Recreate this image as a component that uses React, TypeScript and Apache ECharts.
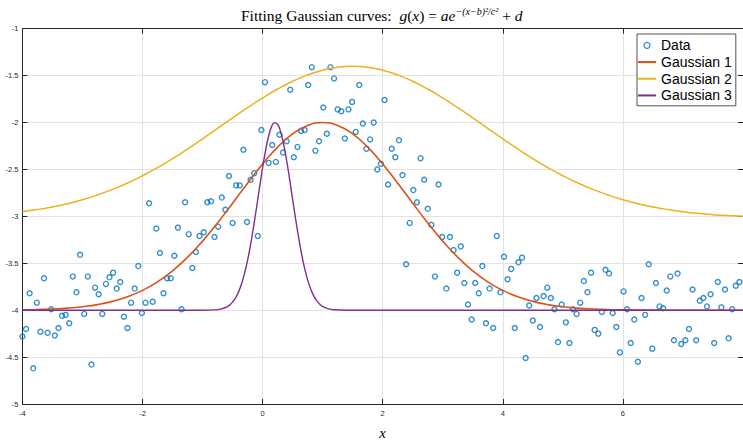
import React, { useEffect, useRef } from "react";
import * as echarts from "echarts";

const dataX = [
  -4.0, -3.94, -3.88, -3.82, -3.76, -3.7, -3.64, -3.58, -3.52, -3.46,
  -3.4, -3.34, -3.28, -3.22, -3.16, -3.1, -3.04, -2.97, -2.91, -2.85,
  -2.79, -2.73, -2.67, -2.61, -2.55, -2.49, -2.43, -2.37, -2.31, -2.25,
  -2.19, -2.13, -2.07, -2.01, -1.95, -1.89, -1.83, -1.77, -1.71, -1.65,
  -1.59, -1.53, -1.47, -1.41, -1.35, -1.29, -1.23, -1.17, -1.11, -1.05,
  -0.98, -0.92, -0.86, -0.8, -0.74, -0.68, -0.62, -0.56, -0.5, -0.44,
  -0.38, -0.32, -0.26, -0.2, -0.14, -0.08, -0.02, 0.04, 0.1, 0.16,
  0.22, 0.28, 0.34, 0.4, 0.46, 0.52, 0.58, 0.64, 0.7, 0.76,
  0.82, 0.88, 0.94, 1.01, 1.07, 1.13, 1.19, 1.25, 1.31, 1.37,
  1.43, 1.49, 1.55, 1.61, 1.67, 1.73, 1.79, 1.85, 1.91, 1.97,
  2.03, 2.09, 2.15, 2.21, 2.27, 2.33, 2.39, 2.45, 2.51, 2.57,
  2.63, 2.69, 2.75, 2.81, 2.87, 2.93, 2.99, 3.06, 3.12, 3.18,
  3.24, 3.3, 3.36, 3.42, 3.48, 3.54, 3.6, 3.66, 3.72, 3.78,
  3.84, 3.9, 3.96, 4.02, 4.08, 4.14, 4.2, 4.26, 4.32, 4.38,
  4.44, 4.5, 4.56, 4.62, 4.68, 4.74, 4.8, 4.86, 4.92, 4.98,
  5.05, 5.11, 5.17, 5.23, 5.29, 5.35, 5.41, 5.47, 5.53, 5.59,
  5.65, 5.71, 5.77, 5.83, 5.89, 5.95, 6.01, 6.07, 6.13, 6.19,
  6.25, 6.31, 6.37, 6.43, 6.49, 6.55, 6.61, 6.67, 6.73, 6.79,
  6.85, 6.91, 6.97, 7.04, 7.1, 7.16, 7.22, 7.28, 7.34, 7.4,
  7.46, 7.52, 7.58, 7.64, 7.7, 7.76, 7.82, 7.88, 7.94,
];

const dataY = [
  -4.28, -4.2, -3.82, -4.62, -3.92, -4.23, -3.66, -4.24, -3.99, -4.27,
  -4.19, -4.06, -4.05, -4.14, -3.64, -3.81, -3.41, -4.04, -3.64, -4.58,
  -3.76, -3.83, -4.04, -3.72, -3.65, -3.6, -3.77, -3.7, -4.07, -4.19,
  -3.92, -3.77, -3.53, -4.03, -3.92, -2.86, -3.91, -3.13, -3.39, -3.82,
  -3.66, -3.66, -3.42, -3.12, -3.99, -2.85, -3.19, -3.55, -3.38, -3.21,
  -3.17, -2.85, -2.84, -3.22, -3.11, -2.8, -2.93, -2.57, -3.07, -2.67,
  -2.67, -2.29, -3.06, -2.61, -2.54, -3.21, -2.08, -1.57, -2.43, -2.24,
  -2.42, -2.13, -2.32, -2.2, -1.65, -2.37, -2.26, -2.09, -2.08, -1.6,
  -1.41, -2.3, -2.2, -1.84, -2.12, -1.41, -1.53, -1.86, -1.88, -2.17,
  -1.86, -1.78, -2.1, -1.6, -2.01, -2.28, -2.18, -2.0, -2.5, -2.44,
  -1.76, -2.66, -2.28, -2.37, -2.19, -2.56, -3.51, -3.07, -2.72, -2.85,
  -2.38, -2.61, -2.92, -3.09, -3.64, -2.66, -3.22, -3.77, -3.22, -3.36,
  -3.6, -3.32, -3.71, -3.94, -4.1, -3.71, -3.82, -3.53, -4.14, -3.77,
  -4.19, -3.21, -3.81, -3.43, -3.67, -3.56, -4.19, -3.49, -3.44, -4.51,
  -3.95, -4.11, -3.87, -4.18, -3.85, -3.76, -3.87, -3.99, -4.34, -3.94,
  -4.13, -4.35, -3.99, -4.04, -3.92, -3.69, -3.81, -3.6, -4.21, -4.25,
  -4.02, -3.57, -3.61, -4.03, -4.18, -4.45, -3.8, -3.99, -4.35, -4.1,
  -4.55, -3.87, -4.05, -3.51, -4.41, -3.71, -3.96, -3.98, -3.79, -3.64,
  -4.32, -3.61, -4.36, -4.32, -4.2, -3.78, -4.32, -3.9, -3.87, -3.96,
  -3.83, -4.35, -3.7, -3.97, -3.78, -4.3, -3.99, -3.74, -3.7,
];

// Fitted curves (x every 0.25)
const curveX = [
  -4, -3.75, -3.5, -3.25, -3, -2.75, -2.5, -2.25, -2, -1.75, -1.5, -1.25, -1,
  -0.75, -0.5, -0.25, 0, 0.25, 0.5, 0.75, 1, 1.25, 1.5, 1.75, 2, 2.25, 2.5,
  2.75, 3, 3.25, 3.5, 3.75, 4, 4.25, 4.5, 4.75, 5, 5.25, 5.5, 5.75, 6, 6.25,
  6.5, 6.75, 7, 7.25, 7.5, 7.75, 8,
];
const gauss1Y = [
  -3.996, -3.993, -3.987, -3.978, -3.963, -3.941, -3.906, -3.857, -3.789,
  -3.698, -3.581, -3.436, -3.264, -3.07, -2.86, -2.647, -2.442, -2.262, -2.121,
  -2.031, -2.0, -2.031, -2.121, -2.262, -2.442, -2.647, -2.86, -3.07, -3.264,
  -3.436, -3.581, -3.698, -3.789, -3.857, -3.906, -3.941, -3.963, -3.978,
  -3.987, -3.993, -3.996, -3.998, -3.999, -4.0, -4.0, -4.0, -4.0, -4.0, -4.0,
];
const gauss2Y = [
  -2.95, -2.928, -2.9, -2.865, -2.823, -2.772, -2.713, -2.645, -2.567, -2.48,
  -2.385, -2.282, -2.174, -2.063, -1.951, -1.842, -1.738, -1.643, -1.56,
  -1.492, -1.442, -1.41, -1.4, -1.41, -1.442, -1.492, -1.56, -1.643, -1.738,
  -1.842, -1.951, -2.063, -2.174, -2.282, -2.385, -2.48, -2.567, -2.645,
  -2.713, -2.772, -2.823, -2.865, -2.9, -2.928, -2.95, -2.968, -2.982, -2.992,
  -3.0,
];
const gauss3X = [
  -4, -1, -0.8, -0.7, -0.6, -0.55, -0.5, -0.45, -0.4, -0.35, -0.3, -0.25,
  -0.2, -0.15, -0.1, -0.05, 0, 0.05, 0.1, 0.15, 0.2, 0.25, 0.3, 0.35, 0.4,
  0.45, 0.5, 0.55, 0.6, 0.65, 0.7, 0.75, 0.8, 0.85, 0.9, 0.95, 1.0, 1.1, 1.2,
  1.4, 8,
];
const gauss3Y = [
  -4.0, -4.0, -3.997, -3.989, -3.967, -3.946, -3.914, -3.869, -3.805, -3.718,
  -3.606, -3.467, -3.301, -3.11, -2.903, -2.689, -2.482, -2.296, -2.146,
  -2.044, -2.001, -2.02, -2.099, -2.231, -2.404, -2.605, -2.818, -3.029,
  -3.227, -3.404, -3.554, -3.677, -3.773, -3.845, -3.898, -3.935, -3.96,
  -3.986, -3.996, -4.0, -4.0,
];

const seriesNames = ["Data", "Gaussian 1", "Gaussian 2", "Gaussian 3"];
const seriesColors = ["#0072BD", "#D95319", "#EDB120", "#7E2F8E"];

const AXIS_COLOR = "#262626";
const GRID_COLOR = "#e2e2e2";

export default function App() {
  const ref = useRef<HTMLDivElement>(null);

  useEffect(() => {
    if (!ref.current) return;
    const chart = echarts.init(ref.current, null, { renderer: "svg" });
    const serif = "Liberation Serif";
    const sans = "Liberation Sans";

    const axisCommon = {
      axisLine: { show: true, onZero: false, lineStyle: { color: AXIS_COLOR, width: 1 } },
      axisTick: { show: true, inside: true, length: 5, lineStyle: { color: AXIS_COLOR, width: 1 } },
    };

    const hiddenSymbol = { color: "transparent", borderColor: "transparent", borderWidth: 0, opacity: 0 };

    chart.setOption({
      animation: false,
      backgroundColor: "#ffffff",
      title: {
        text:
          "{n|Fitting Gaussian curves:  }{i|g}{n|(}{i|x}{n|) = }{i|ae}{s|−(x−b)²/c²}{n| + }{i|d}",
        left: 236,
        top: 1,
        textStyle: {
          fontWeight: "normal",
          rich: {
            n: { fontFamily: serif, fontSize: 15.5, fontWeight: "normal", color: "#000", lineHeight: 18 },
            i: {
              fontFamily: serif,
              fontSize: 15.5,
              fontStyle: "italic",
              fontWeight: "normal",
              color: "#000",
              lineHeight: 18,
            },
            s: {
              fontFamily: serif,
              fontSize: 10,
              fontStyle: "italic",
              fontWeight: "normal",
              color: "#000",
              lineHeight: 8,
              verticalAlign: "top",
            },
          },
        },
      },
      legend: {
        orient: "vertical",
        left: 637,
        top: 34,
        padding: [3, 4, 2, 0],
        itemGap: 0,
        itemWidth: 18,
        itemHeight: 6,
        borderColor: AXIS_COLOR,
        borderWidth: 0.8,
        backgroundColor: "#ffffff",
        textStyle: { fontFamily: sans, fontSize: 14, color: "#000", lineHeight: 16.7 },
        data: [
          {
            name: seriesNames[0],
            icon: "circle",
            itemStyle: { color: "transparent", borderColor: seriesColors[0], borderWidth: 1.3 },
          },
          { name: seriesNames[1], itemStyle: hiddenSymbol },
          { name: seriesNames[2], itemStyle: hiddenSymbol },
          { name: seriesNames[3], itemStyle: hiddenSymbol },
        ],
      },
      grid: { left: 22.4, right: -3, top: 28.7, bottom: 24.5, containLabel: false },
      xAxis: [
        {
          type: "value",
          min: -4,
          max: 8,
          interval: 2,
          position: "bottom",
          name: "x",
          nameLocation: "middle",
          nameGap: 21,
          nameTextStyle: { fontFamily: serif, fontStyle: "italic", fontSize: 15, color: "#000" },
          ...axisCommon,
          axisLabel: { fontSize: 7.5, color: AXIS_COLOR, margin: 5, fontFamily: sans, showMaxLabel: false },
          splitLine: { show: true, lineStyle: { color: GRID_COLOR, width: 1 } },
        },
        {
          type: "value",
          min: -4,
          max: 8,
          interval: 2,
          position: "top",
          ...axisCommon,
          axisLabel: { show: false },
          splitLine: { show: false },
        },
      ],
      yAxis: [
        {
          type: "value",
          min: -5,
          max: -1,
          interval: 0.5,
          position: "left",
          ...axisCommon,
          axisLabel: { fontSize: 7.5, color: AXIS_COLOR, margin: 4, fontFamily: sans },
          splitLine: { show: true, lineStyle: { color: GRID_COLOR, width: 1 } },
        },
        {
          type: "value",
          min: -5,
          max: -1,
          interval: 0.5,
          position: "right",
          ...axisCommon,
          axisLabel: { show: false },
          splitLine: { show: false },
        },
      ],
      series: [
        {
          name: seriesNames[0],
          type: "scatter",
          xAxisIndex: 0,
          yAxisIndex: 0,
          data: dataX.map((x, i) => [x, dataY[i]]),
          symbol: "circle",
          symbolSize: 5,
          itemStyle: { color: "transparent", borderColor: seriesColors[0], borderWidth: 1.4 },
        },
        {
          name: seriesNames[1],
          type: "line",
          xAxisIndex: 0,
          yAxisIndex: 0,
          data: curveX.map((x, i) => [x, gauss1Y[i]]),
          smooth: true,
          symbol: "none",
          lineStyle: { color: seriesColors[1], width: 1.6 },
          itemStyle: { color: seriesColors[1] },
        },
        {
          name: seriesNames[2],
          type: "line",
          xAxisIndex: 0,
          yAxisIndex: 0,
          data: curveX.map((x, i) => [x, gauss2Y[i]]),
          smooth: true,
          symbol: "none",
          lineStyle: { color: seriesColors[2], width: 1.5 },
          itemStyle: { color: seriesColors[2] },
        },
        {
          name: seriesNames[3],
          type: "line",
          xAxisIndex: 0,
          yAxisIndex: 0,
          data: gauss3X.map((x, i) => [x, gauss3Y[i]]),
          smooth: true,
          symbol: "none",
          lineStyle: { color: seriesColors[3], width: 1.4 },
          itemStyle: { color: seriesColors[3] },
        },
      ],
    });

    return () => chart.dispose();
  }, []);

  return (
    <div
      ref={ref}
      style={{ position: "fixed", left: 0, top: 0, width: 743, height: 445, background: "#fff" }}
    />
  );
}
